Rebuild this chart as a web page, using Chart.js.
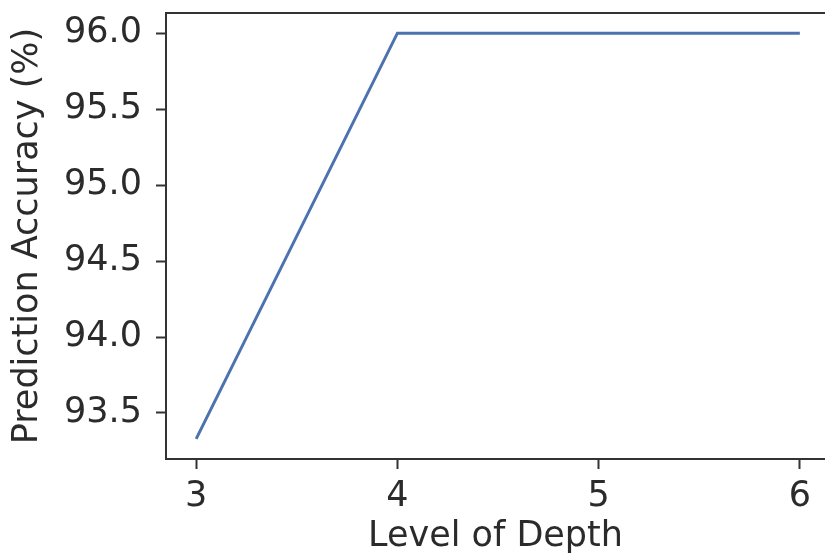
<!DOCTYPE html>
<html>
<head>
<meta charset="utf-8">
<script src="https://cdn.jsdelivr.net/npm/chart.js@4/dist/chart.umd.min.js"></script>
<style>
    html, body { margin: 0; padding: 0; background: #ffffff; overflow: hidden; }
    #chart { display: block; }
</style>
</head>
<body>
<canvas id="chart" width="825" height="559"></canvas>
<script>
// values
const depthLevels = [3, 4, 5, 6];
const accuracyValues = [93.33, 96.0, 96.0, 96.0];
const xTickValues = [3, 4, 5, 6];
const yTickValues = [93.5, 94.0, 94.5, 95.0, 95.5, 96.0];

const TEXT_COLOR = '#2b2b2b';
const SPINE_COLOR = '#333333';
const FONT = 'DejaVu Sans';
const FONT_SIZE = 35;

// top spine; the right one is cut off by the figure edge in the reference
const topSpine = {
    id: 'topSpine',
    afterDraw(chart) {
        const { ctx, chartArea } = chart;
        ctx.save();
        ctx.strokeStyle = SPINE_COLOR;
        ctx.lineWidth = 2;
        ctx.beginPath();
        ctx.moveTo(chartArea.left, chartArea.top);
        ctx.lineTo(chart.width, chartArea.top);
        ctx.stroke();
        ctx.restore();
    }
};

// keep the plot box where the reference has it, no extra label padding
function noScalePadding(scale) {
    scale.paddingTop = 0;
    scale.paddingBottom = 0;
    scale.paddingLeft = 0;
    scale.paddingRight = 0;
}

const ctx = document.getElementById('chart').getContext('2d');
new Chart(ctx, {
    type: 'line',
    data: {
        datasets: [{
            data: depthLevels.map((d, i) => ({ x: d, y: accuracyValues[i] })),
            borderColor: '#4C72B0',
            borderWidth: 3,
            pointRadius: 0,
            tension: 0,
            fill: false
        }]
    },
    options: {
        responsive: false,
        animation: false,
        layout: { padding: { top: 13, right: 0, left: 0, bottom: 0 } },
        plugins: {
            legend: { display: false },
            tooltip: { enabled: false }
        },
        scales: {
            x: {
                type: 'linear',
                min: 2.85,
                max: 6.125,
                afterBuildTicks: (scale) => {
                    scale.ticks = xTickValues.map(v => ({ value: v }));
                },
                afterFit: (scale) => { scale.height = 100; noScalePadding(scale); },
                ticks: {
                    color: TEXT_COLOR,
                    font: { family: FONT, size: FONT_SIZE },
                    padding: 7,
                    maxRotation: 0,
                    callback: (v) => String(v)
                },
                grid: {
                    drawOnChartArea: false,
                    drawTicks: true,
                    tickLength: 10,
                    tickWidth: 2,
                    tickColor: SPINE_COLOR
                },
                border: { display: true, color: SPINE_COLOR, width: 2 },
                title: {
                    display: true,
                    text: 'Level of Depth',
                    color: TEXT_COLOR,
                    font: { family: FONT, size: FONT_SIZE },
                    padding: { top: 0, bottom: 1 }
                }
            },
            y: {
                type: 'linear',
                min: 93.197,
                max: 96.133,
                afterBuildTicks: (scale) => {
                    scale.ticks = yTickValues.map(v => ({ value: v }));
                },
                afterFit: (scale) => { scale.width = 166; noScalePadding(scale); },
                ticks: {
                    color: TEXT_COLOR,
                    font: { family: FONT, size: FONT_SIZE },
                    padding: 14,
                    callback: (v) => Number(v).toFixed(1)
                },
                grid: {
                    drawOnChartArea: false,
                    drawTicks: true,
                    tickLength: 10,
                    tickWidth: 2,
                    tickColor: SPINE_COLOR
                },
                border: { display: true, color: SPINE_COLOR, width: 2 },
                title: {
                    display: true,
                    text: 'Prediction Accuracy (%)',
                    color: TEXT_COLOR,
                    font: { family: FONT, size: FONT_SIZE },
                    padding: { top: 7, bottom: 0 }
                }
            }
        }
    },
    plugins: [topSpine]
});
</script>
</body>
</html>
